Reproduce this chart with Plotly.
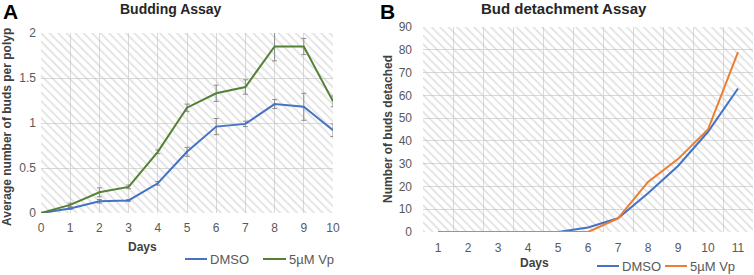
import plotly.graph_objects as go

# ---------------- data ----------------
days_a = [0, 1, 2, 3, 4, 5, 6, 7, 8, 9, 10]
dmso_a = [0, 0.05, 0.13, 0.14, 0.33, 0.68, 0.96, 0.99, 1.21, 1.18, 0.92]
dmso_a_err = [0, 0.01, 0.02, 0.01, 0.02, 0.05, 0.09, 0.03, 0.05, 0.15, 0.07]
vp_a = [0, 0.09, 0.23, 0.29, 0.68, 1.17, 1.33, 1.40, 1.85, 1.85, 1.24]
vp_a_err = [0, 0.02, 0.05, 0.02, 0.02, 0.04, 0.09, 0.08, 0.16, 0.09, 0.06]

days_b = [1, 2, 3, 4, 5, 6, 7, 8, 9, 10, 11]
dmso_b = [0, 0, 0, 0, 0, 2, 6, 17, 29, 44, 63]
vp_b = [0, 0, 0, 0, 0, 0, 6, 22, 32, 45, 79]

series_names = ["DMSO", "5µM Vp"]
title_a = "Budding Assay"
title_b = "Bud detachment Assay"
ylabel_a = "Average number of buds per polyp"
ylabel_b = "Number of buds detached"
xlabel = "Days"

BLUE = "#4472C4"
GREEN = "#548235"
ORANGE = "#ED7D31"
GRID = "#d9d9d9"
TICK = "#595959"
FONT = "Liberation Sans, Arial, sans-serif"

W, H = 754, 275
def px(x):
    return x / W
def py(y):
    return 1 - y / H

fig = go.Figure()

hatch = dict(shape="\\", fgcolor="#c4c4c4", bgcolor="rgba(0,0,0,0)", size=6, solidity=0.3)

# hatch backgrounds
fig.add_trace(go.Scatter(x=[0, 10, 10, 0, 0], y=[0, 0, 2, 2, 0], fill="toself",
                         fillcolor="rgba(0,0,0,0)", fillpattern=hatch, mode="none",
                         hoverinfo="skip", showlegend=False, xaxis="x", yaxis="y"))
fig.add_trace(go.Scatter(x=[0.5, 11.5, 11.5, 0.5, 0.5], y=[0, 0, 90, 90, 0], fill="toself",
                         fillcolor="rgba(0,0,0,0)", fillpattern=hatch, mode="none",
                         hoverinfo="skip", showlegend=False, xaxis="x2", yaxis="y2"))

err_style = dict(type="data", color="#8c8c8c", thickness=1, width=2.5)

fig.add_trace(go.Scatter(x=days_a, y=dmso_a, mode="lines", name=series_names[0],
                         line=dict(color=BLUE, width=2), showlegend=False,
                         error_y=dict(array=dmso_a_err, **err_style),
                         xaxis="x", yaxis="y"))
fig.add_trace(go.Scatter(x=days_a, y=vp_a, mode="lines", name=series_names[1],
                         line=dict(color=GREEN, width=2), showlegend=False,
                         error_y=dict(array=vp_a_err, **err_style),
                         xaxis="x", yaxis="y"))

fig.add_trace(go.Scatter(x=days_b, y=dmso_b, mode="lines", name=series_names[0],
                         line=dict(color=BLUE, width=2), showlegend=False,
                         xaxis="x2", yaxis="y2"))
fig.add_trace(go.Scatter(x=days_b, y=vp_b, mode="lines", name=series_names[1],
                         line=dict(color=ORANGE, width=2), showlegend=False,
                         xaxis="x2", yaxis="y2"))

tickfont = dict(family=FONT, size=12, color=TICK)
common = dict(automargin=False, zeroline=False, showline=False, tickfont=tickfont, ticks="",
              gridcolor=GRID, gridwidth=1)

fig.update_layout(
    width=W, height=H,
    margin=dict(l=0, r=0, t=0, b=0, autoexpand=False),
    paper_bgcolor="white", plot_bgcolor="white",
    font=dict(family=FONT, color="#404040"),
    showlegend=False,
    xaxis=dict(domain=[px(41), px(333)], range=[0, 10], dtick=1, showgrid=True,
               ticklabelstandoff=6, anchor="y", **common),
    yaxis=dict(domain=[py(213), py(33)], range=[0, 2], dtick=0.5, showgrid=True,
               ticklabelstandoff=4, anchor="x", tickformat="~g", **common),
    xaxis2=dict(domain=[px(423), px(753)], range=[0.5, 11.5], tickvals=days_b,
                ticktext=[str(d) for d in days_b], showgrid=False,
                minor=dict(tickvals=[d + 0.5 for d in days_b[:-1]], showgrid=True,
                           gridcolor=GRID, gridwidth=1, ticks=""),
                ticklabelstandoff=7, anchor="y2", **common),
    yaxis2=dict(domain=[py(232), py(27)], range=[0, 90], dtick=10, showgrid=True,
                ticklabelstandoff=10, anchor="x2", **common),
)

ann = []
ann.append(dict(text="<b>" + title_a + "</b>", x=px(171), y=py(9), font=dict(size=14, color="#262626")))
ann.append(dict(text="<b>" + title_b + "</b>", x=px(564), y=py(9), font=dict(size=15, color="#262626")))
ann.append(dict(text="<b>A</b>", x=px(10), y=py(11), font=dict(size=21, color="black")))
ann.append(dict(text="<b>B</b>", x=px(387), y=py(11), font=dict(size=21, color="black")))
ann.append(dict(text="<b>" + ylabel_a + "</b>", x=px(7), y=py(127), textangle=-90,
                font=dict(size=12, color="#404040")))
ann.append(dict(text="<b>" + ylabel_b + "</b>", x=px(388), y=py(129), textangle=-90,
                font=dict(size=12, color="#404040")))
ann.append(dict(text="<b>" + xlabel + "</b>", x=px(142), y=py(247), font=dict(size=12, color="#404040")))
ann.append(dict(text="<b>" + xlabel + "</b>", x=px(534), y=py(263), font=dict(size=12, color="#404040")))

# legends (sample line + label)
legend_items = [
    (series_names[0], BLUE, 185, 207, 259),
    (series_names[1], GREEN, 263, 286, 259),
    (series_names[0], BLUE, 597, 619, 266),
    (series_names[1], ORANGE, 665, 687, 266),
]
shapes = []
for name, color, x0, x1, yy in legend_items:
    shapes.append(dict(type="line", xref="paper", yref="paper", x0=px(x0), x1=px(x1),
                       y0=py(yy), y1=py(yy), line=dict(color=color, width=2)))
    ann.append(dict(text=name, x=px(x1 + 1), y=py(yy), xanchor="left",
                    font=dict(size=13, color=TICK)))

for a in ann:
    a.setdefault("xanchor", "center")
    a.update(xref="paper", yref="paper", showarrow=False, yanchor="middle")
    a["font"]["family"] = FONT
fig.update_layout(annotations=ann, shapes=shapes)

fig.write_html("out.html", config={"displayModeBar": False},
               post_script="document.body.style.margin='0';document.body.style.overflow='hidden';")
